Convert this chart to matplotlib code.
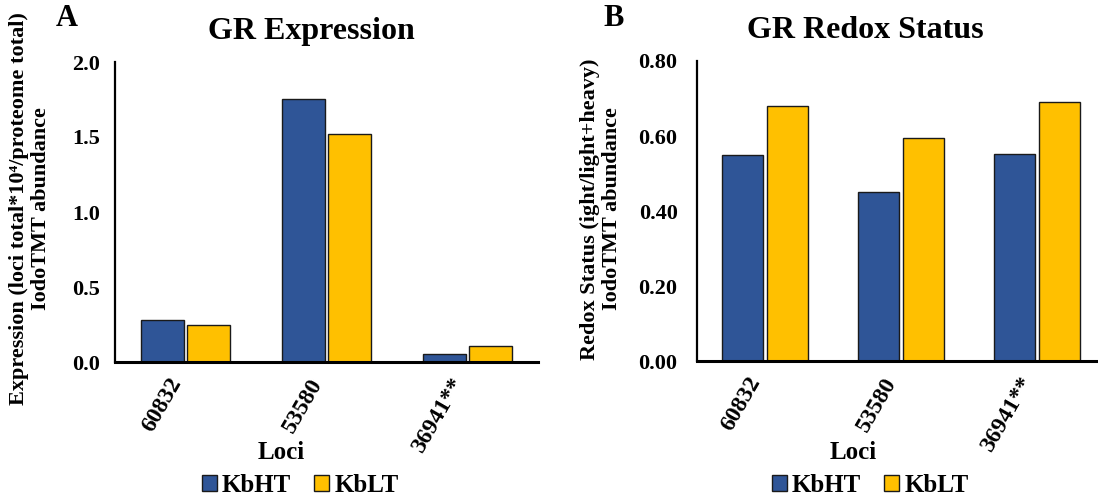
import matplotlib
matplotlib.use("Agg")
import matplotlib.pyplot as plt
import numpy as np
from matplotlib.patches import Patch

plt.rcParams['font.family'] = ['Liberation Serif', 'DejaVu Serif']
plt.rcParams['font.weight'] = 'bold'

loci = ["60832", "53580", "36941**"]
series = ["KbHT", "KbLT"]
expr_kbht = [0.28, 1.75, 0.055]
expr_kblt = [0.245, 1.52, 0.107]
redox_kbht = [0.549, 0.450, 0.553]
redox_kblt = [0.679, 0.594, 0.692]
colors = ["#2F5597", "#FFC000"]

W, H = 1098, 498
fig = plt.figure(figsize=(W / 100, H / 100), dpi=100)

def ax_at(x0, y_top, x1, y_bot):
    return fig.add_axes([x0 / W, 1 - y_bot / H, (x1 - x0) / W, (y_bot - y_top) / H])

def style(ax, ymax, step, fmt, pad):
    x = np.arange(len(loci))
    ax.set_xlim(-0.5, len(loci) - 0.5)
    ax.set_ylim(0, ymax)
    ax.set_yticks(np.arange(0, ymax + step / 2, step))
    ax.yaxis.set_major_formatter(matplotlib.ticker.FormatStrFormatter(fmt))
    ax.set_xticks(x)
    ax.set_xticklabels(loci, rotation=60, ha='right', fontsize=17, fontweight='bold')
    ax.tick_params(axis='both', length=0)
    ax.tick_params(axis='y', pad=pad, labelsize=16)
    ax.tick_params(axis='x', pad=9)
    for s in ['top', 'right']:
        ax.spines[s].set_visible(False)
    ax.spines['left'].set_linewidth(1.6)
    ax.spines['bottom'].set_linewidth(2.2)
    for lab in ax.get_yticklabels():
        lab.set_fontweight('bold')

def bars(ax, a, b, w, off):
    x = np.arange(len(loci))
    ax.bar(x - off, a, w, color=colors[0], edgecolor='#1a1a1a', linewidth=1.0)
    ax.bar(x + off, b, w, color=colors[1], edgecolor='#1a1a1a', linewidth=1.0)

# Panel A
ax1 = ax_at(115, 62, 538, 362)
bars(ax1, expr_kbht, expr_kblt, 0.305, 0.165)
style(ax1, 2.0, 0.5, '%.1f', 11)

# Panel B
ax2 = ax_at(697, 61, 1105, 361)
bars(ax2, redox_kbht, redox_kblt, 0.30, 0.165)
style(ax2, 0.80, 0.20, '%.2f', 14)

# Titles and panel letters
fig.text(311 / W, 1 - 31 / H, "GR Expression", ha='center', va='center', fontsize=23, fontweight='bold')
fig.text(865 / W, 1 - 31 / H, "GR Redox Status", ha='center', va='center', fontsize=23, fontweight='bold')
fig.text(67 / W, 1 - 18 / H, "A", ha='center', va='center', fontsize=22, fontweight='bold')
fig.text(614 / W, 1 - 18 / H, "B", ha='center', va='center', fontsize=22, fontweight='bold')

# Y labels
fig.text(30 / W, 1 - 209 / H, "Expression (loci total*10\u2074/proteome total)\nIodoTMT abundance",
         rotation=90, ha='center', va='center', multialignment='center', fontsize=16, fontweight='bold',
         linespacing=1.15)
fig.text(601 / W, 1 - 209 / H, "Redox Status (ight/light+heavy)\nIodoTMT abundance",
         rotation=90, ha='center', va='center', multialignment='center', fontsize=16, fontweight='bold',
         linespacing=1.15)

# X labels
fig.text(281 / W, 1 - 452 / H, "Loci", ha='center', va='center', fontsize=18, fontweight='bold')
fig.text(853 / W, 1 - 452 / H, "Loci", ha='center', va='center', fontsize=18, fontweight='bold')

# Legends
handles = [Patch(facecolor=colors[i], edgecolor='#1a1a1a', linewidth=1.0, label=series[i]) for i in range(2)]
for cx in (300, 870):
    fig.legend(handles=handles, loc='center', bbox_to_anchor=(cx / W, 1 - 485 / H), ncol=2, frameon=False,
               prop={'family': 'Liberation Serif', 'weight': 'bold', 'size': 18},
               handlelength=0.62, handleheight=0.62, handletextpad=0.2, columnspacing=0.9, borderpad=0)

fig.savefig("out.png", dpi=100)
